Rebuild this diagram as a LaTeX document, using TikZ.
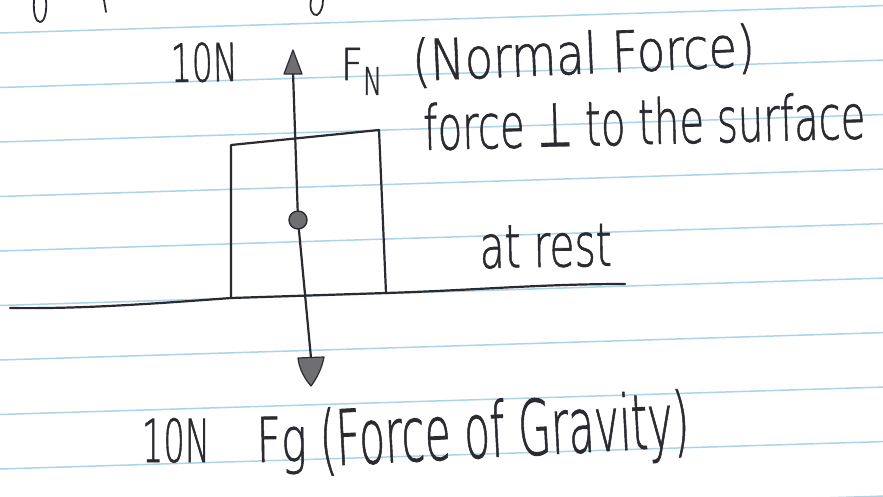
\documentclass[tikz,border=0pt]{standalone}
\usepackage{fontspec}
\usepackage{graphicx}
\IfFontExistsTF{DejaVu Sans ExtraLight}{\newfontfamily\handfont[FakeBold=1.2]{DejaVu Sans ExtraLight}}{\newfontfamily\handfont{DejaVu Sans}}
\newfontfamily\symfont[FakeBold=0.4]{DejaVu Sans}
\definecolor{ink}{RGB}{42,42,48}
\definecolor{ruleblue}{RGB}{172,212,232}
\definecolor{headgray}{RGB}{110,110,115}
\newcommand{\handtxt}[3]{\resizebox{#1pt}{#2pt}{\handfont #3}}
\tikzset{
  ruled/.style={draw=ruleblue, line width=1.5pt},
  pen/.style={draw=ink, line width=2.2pt, line cap=round, line join=round},
  thinpen/.style={draw=ink, line width=1.8pt, line cap=round, line join=round},
  hand/.style={anchor=base west, inner sep=0pt, outer sep=0pt, text=ink},
  headshape/.style={fill=headgray, draw=ink, line width=1.2pt, line join=round}
}
\begin{document}
\begin{tikzpicture}[x=1pt,y=-1pt]
\useasboundingbox (0,0) rectangle (883,497);
\fill[white] (0,0) rectangle (883,497);
\begin{scope}
\clip (0,0) rectangle (883,497);
% ruled notebook lines
\foreach \k in {0,...,9}{
  \draw[ruled] (0,{33+54.5*\k}) -- (883,{33+54.5*\k-27.4});
}
% fragments of the previous line of writing
\draw[thinpen] (34,0) .. controls (33,14) and (36,22) .. (40,22) .. controls (45,22) and (47,10) .. (46,0);
\draw[thinpen] (104,0) -- (106,12);
\draw[thinpen] (311,0) .. controls (309,10) and (313,16) .. (317,15) .. controls (321,13) and (323,6) .. (323,0);
\end{scope}

% ground
\coordinate (g0) at (10,308);
\coordinate (gL) at (231,298);
\coordinate (gR) at (386,293);
\coordinate (g1) at (625,284);
\draw[pen] (g0) .. controls (80,309) and (150,304) .. (gL) -- (gR) .. controls (480,290) and (540,284) .. (g1);

% block
\coordinate (bTL) at (231,145);
\coordinate (bTR) at (379,130);
\draw[pen] (gL) -- (bTL) -- (bTR) -- (gR);

% centre of mass and force arrows
\node[circle, fill=headgray, draw=ink, line width=1.4pt, minimum size=18pt, inner sep=0pt] (cm) at (298,220) {};
\coordinate (upTip) at (293,50);
\coordinate (upBase) at (293,72);
\coordinate (dnBase) at (311,358);
\coordinate (dnTip) at (311,386);
\draw[pen] (cm) -- (upBase);
\draw[pen] (cm) -- (dnBase);
\filldraw[headshape] (upTip) -- (284,74) -- (302,74) -- cycle;
\filldraw[headshape] (dnTip) .. controls (304,378) and (299,368) .. (298,358) -- (324,357) .. controls (322,368) and (317,378) .. (dnTip) -- cycle;

% labels
\node[hand, rotate=1] (nTop) at (171,82) {\handtxt{67}{39}{10N}};
\node[hand] (fN) at (341,80) {\handtxt{22}{32}{F}};
\node[hand] (fNsub) at (363,95) {\handtxt{19}{28}{N}};
\node[hand, rotate=2.5] (normal) at (413,81) {\handtxt{343}{43}{(Normal Force)}};
\node[hand, rotate=1.5] (perp) at (424,150) {\handtxt{442}{47}{force {\symfont ⊥} to the surface}};
\node[hand, rotate=1] (rest) at (480,268) {\handtxt{132}{42}{at rest}};
\node[hand] (nBot) at (142,462) {\handtxt{68}{44}{10N}};
\node[hand, rotate=1] (fg) at (257,462) {\handtxt{50}{45}{Fg}};
\node[hand, rotate=3] (grav) at (321,466) {\handtxt{370}{58}{(Force of Gravity)}};
\end{tikzpicture}
\end{document}
